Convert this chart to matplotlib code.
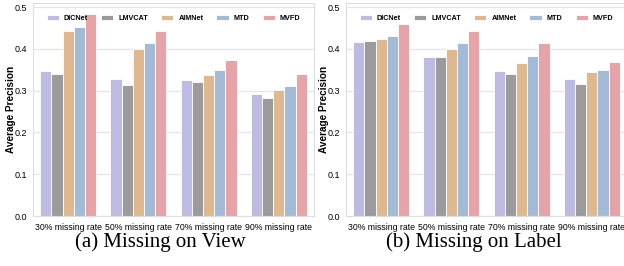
import matplotlib
matplotlib.use("Agg")
import matplotlib.pyplot as plt
import numpy as np

# данные
categories = ["30% missing rate", "50% missing rate", "70% missing rate", "90% missing rate"]
methods = ["DICNet", "LMVCAT", "AIMNet", "MTD", "MVFD"]

# (a) Missing on View
view_dicnet = [0.346, 0.329, 0.326, 0.292]
view_lmvcat = [0.339, 0.314, 0.321, 0.282]
view_aimnet = [0.442, 0.399, 0.337, 0.302]
view_mtd = [0.452, 0.414, 0.349, 0.312]
view_mvfd = [0.484, 0.442, 0.374, 0.339]

# (b) Missing on Label
label_dicnet = [0.416, 0.380, 0.346, 0.329]
label_lmvcat = [0.420, 0.381, 0.339, 0.315]
label_aimnet = [0.425, 0.399, 0.367, 0.344]
label_mtd = [0.432, 0.414, 0.383, 0.350]
label_mvfd = [0.459, 0.442, 0.415, 0.369]

colors = ["#bebbe3", "#9b9b9e", "#e0b88f", "#a4bbd8", "#e6a4a9"]

plt.rcParams["font.family"] = ["Liberation Sans", "DejaVu Sans"]

fig = plt.figure(figsize=(6.24, 2.66), dpi=100)

W, H = 624, 266


def draw(ax, series, caption):
    x = np.arange(len(categories))
    w = 0.8 / len(series)
    for i, (name, vals) in enumerate(zip(methods, series)):
        ax.bar(x - 0.4 + w * (i + 0.5), vals, width=w, color=colors[i],
               edgecolor="white", linewidth=0.6, label=name, zorder=2)
    ax.set_xlim(-0.5, 3.5)
    ax.set_ylim(0, 0.51)
    ax.set_yticks([0.0, 0.1, 0.2, 0.3, 0.4, 0.5])
    ax.set_yticklabels(["0.0", "0.1", "0.2", "0.3", "0.4", "0.5"], fontsize=6.5)
    ax.set_xticks(x)
    ax.set_xticklabels(categories, fontsize=6.3)
    ax.tick_params(axis="x", length=0, pad=5)
    ax.tick_params(axis="y", length=0, pad=4)
    ax.grid(axis="y", color="#e5e5e5", linewidth=0.9, zorder=0)
    ax.set_axisbelow(True)
    for s in ax.spines.values():
        s.set_color("#dddddd")
        s.set_linewidth(0.8)
    ax.set_ylabel("Average Precision", fontsize=7.2, fontweight="bold")
    ax.yaxis.set_label_coords(-0.06, 0.5)
    ax.legend(loc="upper center", ncol=5, frameon=False,
              bbox_to_anchor=(0.5, 0.975), handlelength=1.7, handleheight=0.6,
              columnspacing=1.8, handletextpad=0.7,
              prop={"weight": "bold", "size": 5.2})
    # подпись под графиком
    bb = ax.get_position()
    fig.text((bb.x0 + bb.x1) / 2 - 13 / W, (H - 242) / H, caption, ha="center",
             va="center", fontsize=15, family="Liberation Serif")


ax1 = fig.add_axes([33 / W, (H - 216) / H, 281 / W, 213 / H])
draw(ax1, [view_dicnet, view_lmvcat, view_aimnet, view_mtd, view_mvfd],
     "(a) Missing on View")

ax2 = fig.add_axes([346 / W, (H - 216) / H, 281 / W, 213 / H])
draw(ax2, [label_dicnet, label_lmvcat, label_aimnet, label_mtd, label_mvfd],
     "(b) Missing on Label")

fig.savefig("out.png", dpi=100)
